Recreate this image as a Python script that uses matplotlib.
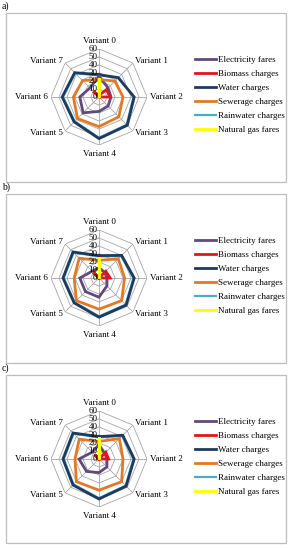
import numpy as np
import matplotlib.pyplot as plt
from matplotlib.patches import Rectangle

plt.rcParams['font.family'] = ['Liberation Serif', 'DejaVu Serif']

# data (units of the radial axis 0-60)
variants = ['Variant 0', 'Variant 1', 'Variant 2', 'Variant 3',
            'Variant 4', 'Variant 5', 'Variant 6', 'Variant 7']
series_names = ['Electricity fares', 'Biomass charges', 'Water charges',
                'Sewerage charges', 'Rainwater charges', 'Natural gas fares']
panel_labels = ['a)', 'b)', 'c)']

electricity_a = [26, 16, 15, 16, 18, 28, 24, 16]
biomass_a     = [2, 13, 14, 0, 0, 0, 0, 10]
water_a       = [28, 34, 44, 50, 52, 44, 46, 43]
sewerage_a    = [22, 28, 30, 35, 37, 38, 32, 29]
rainwater_a   = [27, 35, 43, 49, 51, 43, 45, 42]
gas_a         = [22, 0, 0, 0, 0, 0, 0, 0]

electricity_b = [13, 10, 10, 14, 24, 24, 24, 12]
biomass_b     = [0, 12, 14, 0, 0, 0, 0, 10]
water_b       = [28, 40, 44, 48, 49, 44, 45, 46]
sewerage_b    = [22, 34, 32, 40, 39, 40, 31, 35]
rainwater_b   = [27, 39, 43, 47, 48, 43, 44, 45]
gas_b         = [25, 0, 0, 0, 0, 0, 0, 0]

electricity_c = [18, 10, 10, 14, 17, 22, 25, 12]
biomass_c     = [0, 12, 12, 0, 0, 0, 0, 8]
water_c       = [28, 42, 44, 48, 50, 46, 45, 46]
sewerage_c    = [22, 36, 30, 40, 39, 40, 30, 35]
rainwater_c   = [27, 41, 43, 47, 49, 45, 44, 45]
gas_c         = [26, 0, 0, 0, 0, 0, 0, 0]

r_ticks = [0, 10, 20, 30, 40, 50, 60]

panels = [
    [electricity_a, biomass_a, water_a, sewerage_a, rainwater_a, gas_a],
    [electricity_b, biomass_b, water_b, sewerage_b, rainwater_b, gas_b],
    [electricity_c, biomass_c, water_c, sewerage_c, rainwater_c, gas_c],
]

colors = ['#5f4a7b', '#e3141b', '#1f3a60', '#e07a26', '#4bacc6', '#ffff00']
zorders = [5, 6, 4, 5, 3, 7]

W, H = 289, 550
fig = plt.figure(figsize=(W / 100, H / 100), dpi=100)

theta = np.linspace(0, 2 * np.pi, len(variants), endpoint=False)
theta_closed = np.append(theta, theta[0])
fs = 6.5

for p in range(3):
    off = p * 181
    # panel frame and letter
    box_top = 13 + off
    box_bot = 182 + off if p < 2 else 543
    fig.patches.append(Rectangle((6 / W, 1 - box_bot / H), 280 / W, (box_bot - box_top) / H,
                                 transform=fig.transFigure, fill=False,
                                 edgecolor='#bdbdbd', lw=0.9))
    fig.text(2 / W, 1 - (6 + off) / H, panel_labels[p], fontsize=7, va='center', ha='left')

    cx, cy, rad = 99, 97 + off, 48
    ax = fig.add_axes([(cx - rad) / W, 1 - (cy + rad) / H, 2 * rad / W, 2 * rad / H],
                      projection='polar')
    ax.set_theta_zero_location('N')
    ax.set_theta_direction(-1)
    ax.set_ylim(0, 60)
    ax.grid(False)
    ax.spines['polar'].set_visible(False)
    ax.set_xticks([])
    ax.set_yticks([])
    ax.patch.set_alpha(0)

    # octagon grid
    for r in r_ticks[1:]:
        ax.plot(theta_closed, [r] * len(theta_closed), color='#a6a6a6', lw=0.6, zorder=1)
    for t in theta:
        ax.plot([t, t], [0, 60], color='#a6a6a6', lw=0.6, zorder=1)

    for v, c, z, name in zip(panels[p], colors, zorders, series_names):
        vals = np.append(v, v[0])
        lw = 2.0 if name != 'Rainwater charges' else 1.6
        ax.plot(theta_closed, vals, color=c, lw=lw, zorder=z, label=name,
                solid_joinstyle='miter')

    for r in r_ticks:
        ax.annotate(str(r), xy=(0, r), xytext=(-1, 0), textcoords='offset points',
                    ha='right', va='center', fontsize=fs, zorder=10)

    # category labels
    for t, lab in zip(theta, variants):
        deg = np.degrees(t)
        if deg == 0:
            ax.text(t, 70, lab, ha='center', va='center', fontsize=fs)
        elif deg == 180:
            ax.text(t, 71, lab, ha='center', va='center', fontsize=fs)
        elif deg < 180:
            ax.text(t, 64, lab, ha='left', va='center', fontsize=fs)
        else:
            ax.text(t, 64, lab, ha='right', va='center', fontsize=fs)

    handles, labels = ax.get_legend_handles_labels()
    fig.legend(handles, labels, loc='upper left',
               bbox_to_anchor=(195 / W, 1 - (56 + off) / H),
               frameon=False, fontsize=fs, borderpad=0, borderaxespad=0,
               handlelength=2.3, handletextpad=0.2, labelspacing=0.62)

fig.savefig('out.png', dpi=100)
